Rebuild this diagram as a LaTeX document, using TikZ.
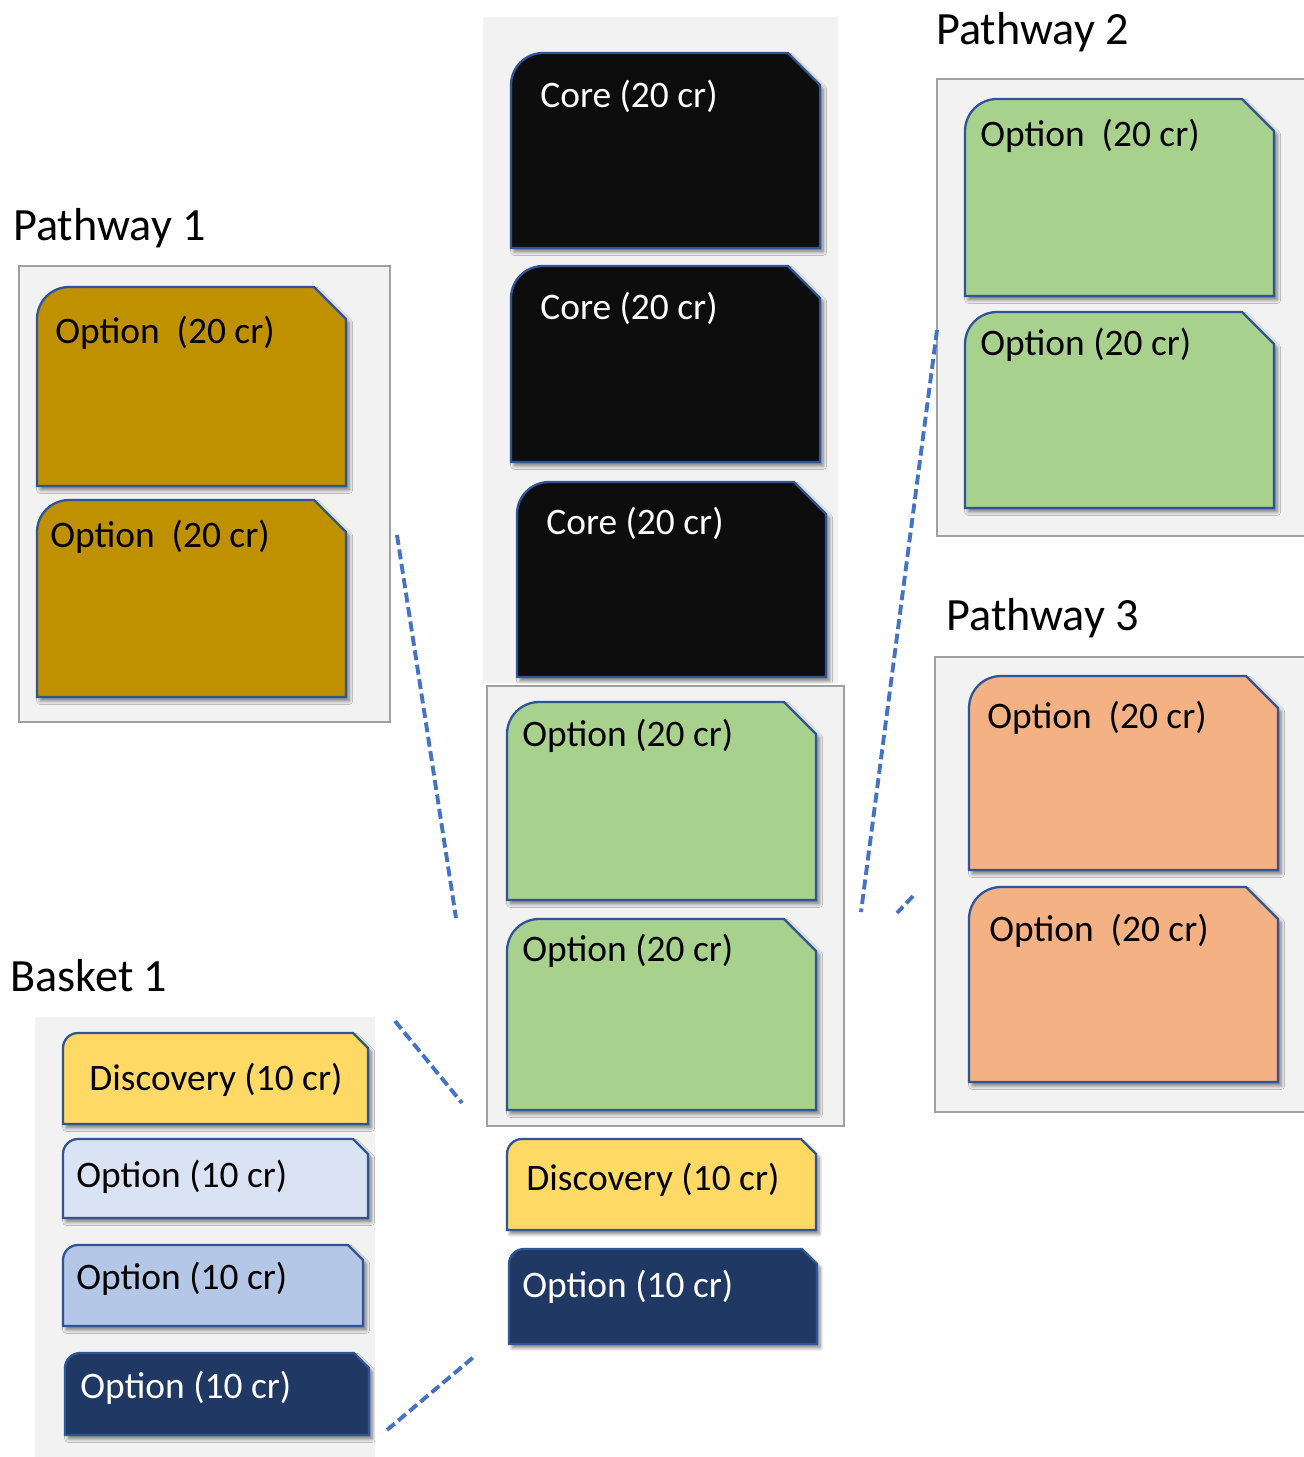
\documentclass[tikz,border=0pt]{standalone}
\usepackage{fontspec}
\setmainfont{Carlito}
\usepackage{xcolor}
\definecolor{coreBlack}{HTML}{0D0D0D}
\definecolor{goldCard}{HTML}{BF9000}
\definecolor{greenCard}{HTML}{A9D18E}
\definecolor{salmonCard}{HTML}{F4B183}
\definecolor{yellowCard}{HTML}{FFD966}
\definecolor{navyCard}{HTML}{203864}
\definecolor{paleBlue}{HTML}{DAE3F3}
\definecolor{midBlue}{HTML}{B4C7E7}
\definecolor{cardBlue}{HTML}{2F5597}
\definecolor{panelGray}{HTML}{F2F2F2}
\definecolor{panelEdge}{HTML}{A0A0A0}
\definecolor{linkBlue}{HTML}{4472C4}
\usetikzlibrary{positioning,shadows.blur}
\tikzset{%
  panelBox/.style={%
    draw=panelEdge,
    line width=1.6pt,
    fill=panelGray
  },
  panelBg/.style={%
    fill=panelGray
  },
  cardEdge/.style={%
    draw=cardBlue,
    line width=1.3pt,
    blur shadow={shadow xshift=1.8pt, shadow yshift=-2.2pt,
      shadow blur steps=6, shadow blur radius=2pt, shadow opacity=50}
  },
  cardText/.style={%
    anchor=west,
    inner sep=0pt,
    yshift=-1.1pt,
    font=\fontsize{21.3}{25}\selectfont
  },
  titleText/.style={%
    anchor=west,
    inner sep=0pt,
    yshift=-1.1pt,
    font=\fontsize{26.3}{31}\selectfont
  },
  linkLine/.style={%
    draw=linkBlue,
    line width=2.2pt,
    dash pattern=on 5.7pt off 2.6pt
  }
}
% card: [fill] {left}{top}{right}{bottom}{corner}
\newcommand{\card}[6][]{%
  \path[cardEdge, #1] (#2,#5) -- (#2,#3+#6)
    .. controls (#2,#3+0.45*#6) and (#2+0.45*#6,#3) .. (#2+#6,#3)
    -- (#4-#6,#3) -- (#4,#3+#6) -- (#4,#5) -- cycle;
}

\begin{document}
\begin{tikzpicture}[x=0.02cm, y=-0.02cm]
  \useasboundingbox (0,0) rectangle (1303,1457);

  % panels
  \fill[panelBg] (483,17) rectangle (838,683);
  \fill[panelBg] (35,1017) rectangle (375,1457);
  \draw[panelBox] (487,686) rectangle (844,1126);
  \draw[panelBox] (19,266) rectangle (390,722);
  \draw[panelBox] (937,79) rectangle (1310,536);
  \draw[panelBox] (935,657) rectangle (1310,1112);

  % titles
  \node[titleText] (pathOneTitle) at (13,226) {Pathway 1};
  \node[titleText] (pathTwoTitle) at (936,30) {Pathway 2};
  \node[titleText] (pathThreeTitle) at (946,616) {Pathway 3};
  \node[titleText] (basketTitle) at (10,974) {Basket 1};

  % middle column
  \card[fill=coreBlack]{511}{53}{820}{248}{32}
  \card[fill=coreBlack]{511}{266}{820}{462}{32}
  \card[fill=coreBlack]{517}{482}{826}{677}{32}
  \card[fill=greenCard]{507}{702}{816}{900}{32}
  \card[fill=greenCard]{507}{919}{816}{1110}{32}
  \card[fill=yellowCard]{507}{1139}{816}{1230}{15}
  \card[fill=navyCard]{509}{1249}{817}{1344}{15}
  \node[cardText, text=white] (coreOne) at (540,94) {Core (20 cr)};
  \node[cardText, text=white] (coreTwo) at (540,306) {Core (20 cr)};
  \node[cardText, text=white] (coreThree) at (546,521) {Core (20 cr)};
  \node[cardText] (midOptOne) at (522,734) {Option (20 cr)};
  \node[cardText] (midOptTwo) at (522,949) {Option (20 cr)};
  \node[cardText] (midDisc) at (526,1178) {Discovery (10 cr)};
  \node[cardText, text=white] (midOptSmall) at (522,1285) {Option (10 cr)};

  % pathway 1
  \card[fill=goldCard]{37}{287}{346}{486}{32}
  \card[fill=goldCard]{37}{500}{346}{697}{32}
  \node[cardText] (pathOneA) at (55,331) {Option\ \ (20 cr)};
  \node[cardText] (pathOneB) at (50,535) {Option\ \ (20 cr)};

  % pathway 2
  \card[fill=greenCard]{965}{99}{1274}{296}{32}
  \card[fill=greenCard]{965}{312}{1274}{508}{32}
  \node[cardText] (pathTwoA) at (980,134) {Option\ \ (20 cr)};
  \node[cardText] (pathTwoB) at (980,343) {Option (20 cr)};

  % pathway 3
  \card[fill=salmonCard]{969}{676}{1278}{870}{32}
  \card[fill=salmonCard]{969}{887}{1278}{1082}{32}
  \node[cardText] (pathThreeA) at (987,716) {Option\ \ (20 cr)};
  \node[cardText] (pathThreeB) at (989,929) {Option\ \ (20 cr)};

  % basket 1
  \card[fill=yellowCard]{63}{1033}{368}{1124}{15}
  \card[fill=paleBlue]{63}{1139}{368}{1218}{15}
  \card[fill=midBlue]{63}{1245}{363}{1326}{15}
  \card[fill=navyCard]{65}{1353}{369}{1435}{15}
  \node[cardText] (basketDisc) at (89,1078) {Discovery (10 cr)};
  \node[cardText] (basketOptA) at (76,1175) {Option (10 cr)};
  \node[cardText] (basketOptB) at (76,1277) {Option (10 cr)};
  \node[cardText, text=white] (basketOptC) at (80,1386) {Option (10 cr)};

  % dashed links
  \coordinate (pOneEnd) at (397,535);
  \coordinate (pOneMid) at (456,918);
  \coordinate (bTopEnd) at (395,1021);
  \coordinate (bTopMid) at (462,1103);
  \coordinate (bLowEnd) at (387,1430);
  \coordinate (bLowMid) at (476,1355);
  \coordinate (pTwoEnd) at (937,330);
  \coordinate (pTwoMid) at (861,912);
  \coordinate (pThreeEnd) at (913,896);
  \coordinate (pThreeMid) at (897,913);
  \draw[linkLine] (pOneEnd) -- (pOneMid);
  \draw[linkLine] (bTopEnd) -- (bTopMid);
  \draw[linkLine] (bLowEnd) -- (bLowMid);
  \draw[linkLine] (pTwoEnd) -- (pTwoMid);
  \draw[linkLine] (pThreeEnd) -- (pThreeMid);
\end{tikzpicture}
\end{document}
